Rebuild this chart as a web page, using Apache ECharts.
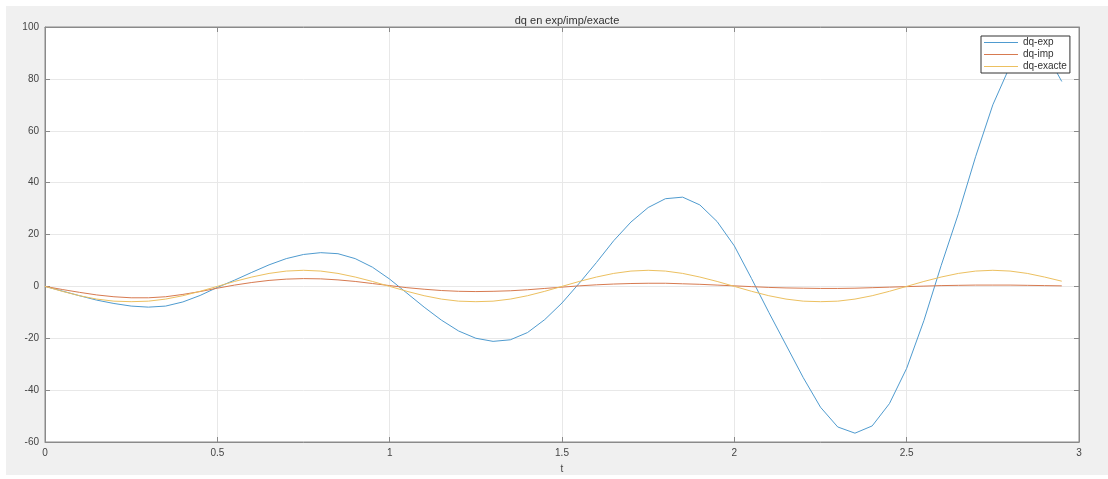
<!DOCTYPE html>
<html>
<head>
<meta charset="utf-8">
<script src="https://cdn.jsdelivr.net/npm/echarts@6/dist/echarts.min.js"></script>
<style>
  html, body { margin: 0; padding: 0; background: #ffffff; }
  #bg { position: absolute; left: 6px; top: 6px; width: 1102px; height: 469px; background: #f0f0f0; }
  #chart { position: absolute; left: 0; top: 0; width: 1108px; height: 479px; }
</style>
</head>
<body>
<div id="bg"></div>
<div id="chart"></div>
<script>
// time samples
const tVals = [0,0.05,0.1,0.15,0.2,0.25,0.3,0.35,0.4,0.45,0.5,0.55,0.6,0.65,0.7,0.75,0.8,0.85,0.9,0.95,
  1.0,1.05,1.1,1.15,1.2,1.25,1.3,1.35,1.4,1.45,1.5,1.55,1.6,1.65,1.7,1.75,1.8,1.85,1.9,1.95,
  2.0,2.05,2.1,2.15,2.2,2.25,2.3,2.35,2.4,2.45,2.5,2.55,2.6,2.65,2.7,2.75,2.8,2.85,2.9,2.95];

const dqExp = [0,-1.8,-3.6,-5.3,-6.6,-7.6,-8.0,-7.6,-6.0,-3.5,-0.4,2.4,5.4,8.3,10.7,12.3,13.0,12.6,10.7,7.4,
  2.8,-2.6,-8.0,-13.0,-17.2,-20.0,-21.2,-20.6,-17.8,-12.8,-6.4,1.2,9.2,17.6,24.8,30.4,33.8,34.4,31.4,25.0,
  15.6,3.0,-10.0,-22.6,-35.2,-46.6,-54.2,-56.6,-53.8,-45.2,-31.6,-13.2,8.0,28.0,50.0,70.0,85.0,93.0,91.0,79.0];

const dqImp = [0,-1.2,-2.3,-3.3,-4.0,-4.4,-4.4,-4.0,-3.1,-2.0,-0.7,0.5,1.5,2.3,2.8,3.0,2.9,2.5,1.9,1.1,
  0.3,-0.5,-1.1,-1.6,-1.9,-2.0,-1.9,-1.7,-1.3,-0.8,-0.3,0.2,0.6,0.9,1.1,1.2,1.2,1.0,0.8,0.5,
  0.2,-0.1,-0.4,-0.6,-0.7,-0.8,-0.8,-0.7,-0.5,-0.3,-0.1,0.1,0.3,0.4,0.5,0.5,0.5,0.4,0.3,0.2];

const dqExacte = [0,-1.9,-3.6,-4.9,-5.7,-5.9,-5.7,-4.9,-3.6,-1.9,0,1.9,3.6,5.0,5.9,6.2,5.9,5.0,3.6,1.9,
  0,-1.9,-3.6,-4.9,-5.7,-5.9,-5.7,-4.9,-3.6,-1.9,0,1.9,3.6,5.0,5.9,6.2,5.9,5.0,3.6,1.9,
  0,-1.9,-3.6,-4.9,-5.7,-5.9,-5.7,-4.9,-3.6,-1.9,0,1.9,3.6,5.0,5.9,6.2,5.9,5.0,3.6,2.0];

const seriesNames = ['dq-exp', 'dq-imp', 'dq-exacte'];
const xTicks = [0, 0.5, 1, 1.5, 2, 2.5, 3];
const yTicks = [-60, -40, -20, 0, 20, 40, 60, 80, 100];
const titleText = 'dq en exp/imp/exacte';
const xName = 't';

const colors = ['#4f9bcf', '#d77a50', '#ecc060'];
const pairs = arr => tVals.map((t, i) => [t, arr[i]]);

const fontFam = '"Liberation Sans", Arial, sans-serif';
const labelColor = '#444444';
const boxColor = '#8a8a8a';

const chart = echarts.init(document.getElementById('chart'), null, { renderer: 'canvas' });
const xMin = xTicks[0], xMax = xTicks[xTicks.length - 1], xInt = xTicks[1] - xTicks[0];
const yMin = yTicks[0], yMax = yTicks[yTicks.length - 1], yInt = yTicks[1] - yTicks[0];

const option = {
  backgroundColor: 'transparent',
  animation: false,
  title: {
    text: titleText,
    left: 562, top: 10, textAlign: 'center',
    textStyle: { fontFamily: fontFam, fontSize: 11, fontWeight: 'normal', color: '#333' }
  },
  legend: {
    data: seriesNames,
    orient: 'vertical',
    left: 981, top: 36,
    icon: 'rect',
    backgroundColor: '#ffffff',
    borderColor: '#333333', borderWidth: 1, borderRadius: 0,
    padding: [1, 3, 1, 3],
    itemWidth: 34, itemHeight: 1, itemGap: 1,
    textStyle: { fontFamily: fontFam, fontSize: 10, color: '#333', lineHeight: 11 }
  },
  grid: {
    left: 45, right: 29, top: 27, bottom: 35,
    show: true, backgroundColor: '#ffffff', borderColor: boxColor, borderWidth: 1
  },
  xAxis: [{
    type: 'value', min: xMin, max: xMax, interval: xInt,
    name: xName, nameLocation: 'middle', nameGap: 22,
    nameTextStyle: { fontFamily: fontFam, fontSize: 10, color: labelColor },
    axisLine: { show: true, onZero: false, lineStyle: { color: boxColor } },
    axisTick: { show: true, inside: true, length: 5, lineStyle: { color: boxColor } },
    axisLabel: { fontFamily: fontFam, fontSize: 10, color: labelColor, margin: 6, showMinLabel: true, showMaxLabel: true },
    splitLine: { show: true, lineStyle: { color: '#e8e8e8', width: 1 } }
  }, {
    type: 'value', min: xMin, max: xMax, interval: xInt, position: 'top',
    axisLine: { show: true, onZero: false, lineStyle: { color: boxColor } },
    axisTick: { show: true, inside: true, length: 5, lineStyle: { color: boxColor } },
    axisLabel: { show: false }, splitLine: { show: false }
  }],
  yAxis: [{
    type: 'value', min: yMin, max: yMax, interval: yInt,
    axisLine: { show: true, onZero: false, lineStyle: { color: boxColor } },
    axisTick: { show: true, inside: true, length: 5, lineStyle: { color: boxColor } },
    axisLabel: { fontFamily: fontFam, fontSize: 10, color: labelColor, margin: 6, showMinLabel: true, showMaxLabel: true },
    splitLine: { show: true, lineStyle: { color: '#e8e8e8', width: 1 } }
  }, {
    type: 'value', min: yMin, max: yMax, interval: yInt, position: 'right',
    axisLine: { show: true, onZero: false, lineStyle: { color: boxColor } },
    axisTick: { show: true, inside: true, length: 5, lineStyle: { color: boxColor } },
    axisLabel: { show: false }, splitLine: { show: false }
  }],
  series: [
    { name: seriesNames[0], type: 'line', data: pairs(dqExp), symbol: 'none', smooth: false,
      color: colors[0], lineStyle: { color: colors[0], width: 1 }, z: 3 },
    { name: seriesNames[1], type: 'line', data: pairs(dqImp), symbol: 'none', smooth: false,
      color: colors[1], lineStyle: { color: colors[1], width: 1 }, z: 4 },
    { name: seriesNames[2], type: 'line', data: pairs(dqExacte), symbol: 'none', smooth: false,
      color: colors[2], lineStyle: { color: colors[2], width: 1 }, z: 5 }
  ]
};
chart.setOption(option);
</script>
</body>
</html>
